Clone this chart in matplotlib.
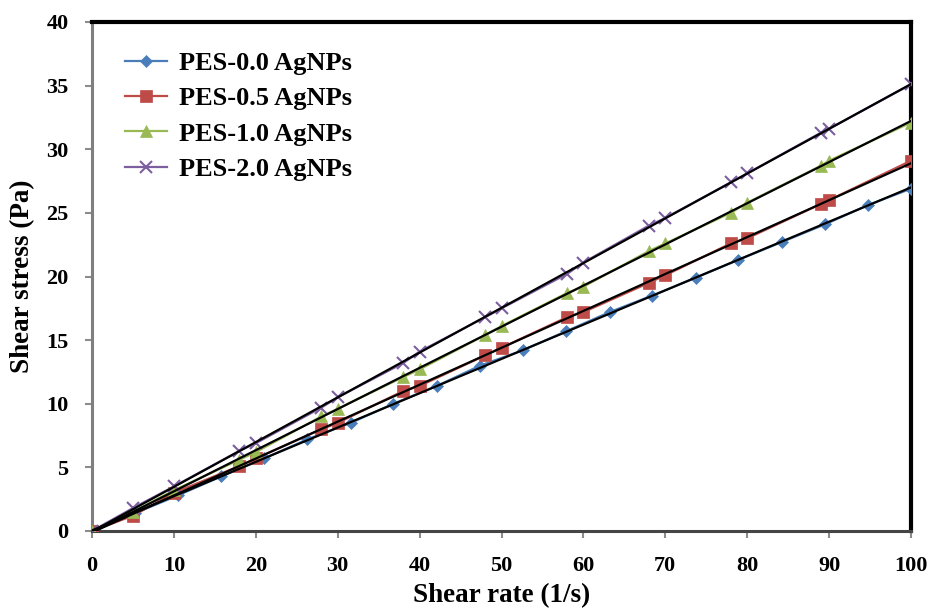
import numpy as np
import matplotlib
matplotlib.use("Agg")
import matplotlib.pyplot as plt

plt.rcParams['font.family'] = ['Liberation Serif', 'DejaVu Serif']
plt.rcParams['font.weight'] = 'bold'

# Shear rate (1/s) and shear stress (Pa) for each membrane
rate_00 = [0, 5.26, 10.5, 15.8, 21.0, 26.3, 31.6, 36.8, 42.1, 47.4, 52.6,
           57.9, 63.2, 68.4, 73.7, 78.9, 84.2, 89.5, 94.7, 100]
stress_00 = [0, 1.4, 2.8, 4.3, 5.7, 7.2, 8.5, 10.0, 11.4, 13.0, 14.2,
             15.7, 17.2, 18.5, 19.9, 21.3, 22.7, 24.1, 25.6, 26.9]

rate_05 = [0, 5, 10, 18, 20, 28, 30, 38, 40, 48, 50, 58, 60, 68, 70, 78, 80, 89, 90, 100]
stress_05 = [0, 1.2, 3.0, 5.1, 5.7, 8.0, 8.5, 11.0, 11.4, 13.8, 14.4, 16.8, 17.2,
             19.5, 20.1, 22.6, 23.0, 25.7, 26.0, 29.1]

rate_10 = [0, 5, 10, 18, 20, 28, 30, 38, 40, 48, 50, 58, 60, 68, 70, 78, 80, 89, 90, 100]
stress_10 = [0, 1.5, 3.2, 5.6, 6.2, 9.0, 9.6, 12.1, 12.7, 15.4, 16.1, 18.7, 19.2,
             22.0, 22.6, 25.0, 25.8, 28.7, 29.1, 32.1]

rate_20 = [0, 5, 10, 18, 20, 28, 30, 38, 40, 48, 50, 58, 60, 68, 70, 78, 80, 89, 90, 100]
stress_20 = [0, 1.8, 3.5, 6.3, 6.9, 9.7, 10.5, 13.2, 14.1, 16.8, 17.5, 20.2, 21.1,
             24.0, 24.6, 27.4, 28.1, 31.3, 31.6, 35.1]

labels = ['PES-0.0 AgNPs', 'PES-0.5 AgNPs', 'PES-1.0 AgNPs', 'PES-2.0 AgNPs']
x_ticks = [0, 10, 20, 30, 40, 50, 60, 70, 80, 90, 100]
y_ticks = [0, 5, 10, 15, 20, 25, 30, 35, 40]

series = [
    (rate_00, stress_00, '#4A7EBB', 'D', 6.5),
    (rate_05, stress_05, '#BE4B48', 's', 8.5),
    (rate_10, stress_10, '#98B954', '^', 8.5),
    (rate_20, stress_20, '#7D5FA0', 'x', 9),
]

fig = plt.figure(figsize=(9.3, 6.1), dpi=100)
ax = fig.add_axes([92 / 930, 1 - 531 / 610, (911 - 92) / 930, (531 - 22) / 610])

for (x, y, c, m, ms), lab in zip(series, labels):
    ax.plot(x, y, color=c, marker=m, markersize=ms, lw=1.6, label=lab,
            markeredgewidth=1.5 if m == 'x' else 0.5, markeredgecolor=c, zorder=3)

# linear trend lines
for x, y, c, m, ms in series:
    k, b = np.polyfit(x, y, 1)
    xs = np.array([0, 100])
    ax.plot(xs, k * xs + b, color='black', lw=1.6, zorder=4)

ax.set_xlim(0, 100)
ax.set_ylim(0, 40)
ax.set_xticks(x_ticks)
ax.set_yticks(y_ticks)
ax.tick_params(direction='out', length=5, width=1.5, color='#8c8c8c', labelsize=16)
ax.tick_params(axis='x', pad=13)
ax.tick_params(axis='y', pad=12)
for t in ax.get_xticklabels() + ax.get_yticklabels():
    t.set_fontweight('bold')
ax.spines['top'].set_linewidth(3)
ax.spines['right'].set_linewidth(3)
ax.spines['top'].set_color('black')
ax.spines['right'].set_color('black')
ax.spines['left'].set_linewidth(2.2)
ax.spines['left'].set_color('#7f7f7f')
ax.spines['bottom'].set_linewidth(2.2)
ax.spines['bottom'].set_color('#454545')

ax.set_xlabel('Shear rate (1/s)', fontsize=19.5, fontweight='bold', labelpad=5)
ax.set_ylabel('Shear stress (Pa)', fontsize=19.5, fontweight='bold', labelpad=8)

leg = ax.legend(loc='upper left', bbox_to_anchor=(0.011, 0.989), frameon=False,
                prop={'family': 'Liberation Serif', 'weight': 'bold', 'size': 19},
                handlelength=1.6, labelspacing=0.45, handletextpad=0.45)

fig.savefig('out.png', dpi=100)
